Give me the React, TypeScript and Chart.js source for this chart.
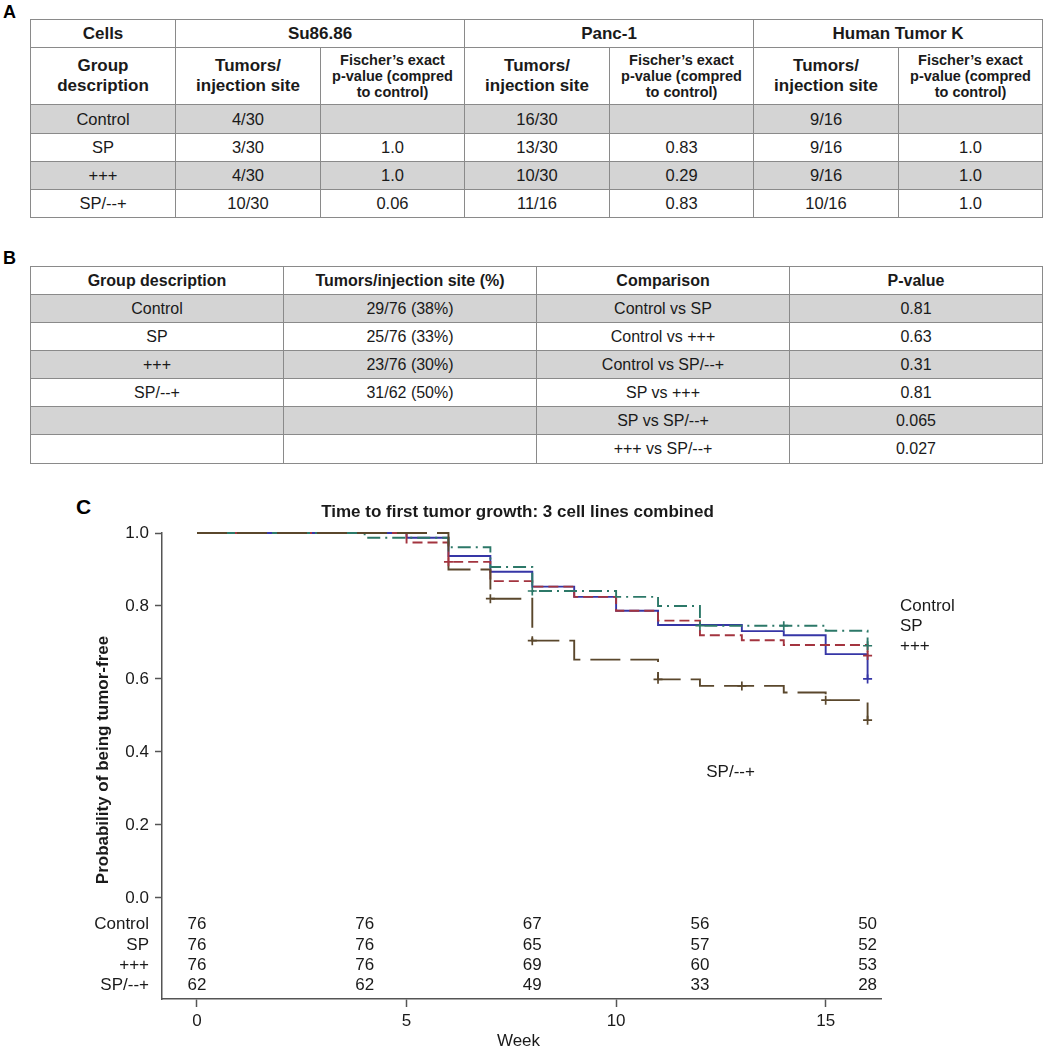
import React, { useEffect, useRef } from 'react';
import { Chart, registerables } from 'chart.js';

Chart.register(...registerables);

// ---------- Data: table A ----------
const GROUPS = ['Control', 'SP', '+++', 'SP/--+'];
const CELL_LINES = ['Su86.86', 'Panc-1', 'Human Tumor K'];
const SU86_TUMORS = ['4/30', '3/30', '4/30', '10/30'];
const SU86_P = ['', '1.0', '1.0', '0.06'];
const PANC1_TUMORS = ['16/30', '13/30', '10/30', '11/16'];
const PANC1_P = ['', '0.83', '0.29', '0.83'];
const HTK_TUMORS = ['9/16', '9/16', '9/16', '10/16'];
const HTK_P = ['', '1.0', '1.0', '1.0'];

// ---------- Data: table B ----------
const COMBINED_TUMORS = ['29/76 (38%)', '25/76 (33%)', '23/76 (30%)', '31/62 (50%)'];
const COMPARISONS = ['Control vs SP', 'Control vs +++', 'Control vs SP/--+', 'SP vs +++', 'SP vs SP/--+', '+++ vs SP/--+'];
const COMPARISON_P = ['0.81', '0.63', '0.31', '0.81', '0.065', '0.027'];

// ---------- Data: Kaplan-Meier ----------
const CONTROL_WEEKS = [0, 5, 6, 7, 8, 9, 10, 11, 13, 14, 15, 16];
const CONTROL_SURV = [1.0, 0.987, 0.937, 0.894, 0.853, 0.825, 0.787, 0.748, 0.731, 0.72, 0.668, 0.6];
const CONTROL_CENSOR_WEEKS = [16];
const CONTROL_CENSOR_SURV = [0.6];

const SP_WEEKS = [0, 5, 6, 7, 8, 9, 10, 11, 12, 13, 14, 16];
const SP_SURV = [1.0, 0.974, 0.921, 0.868, 0.853, 0.825, 0.787, 0.76, 0.72, 0.706, 0.693, 0.664];
const SP_CENSOR_WEEKS = [6, 16];
const SP_CENSOR_SURV = [0.921, 0.664];

const TRIPLE_WEEKS = [0, 4, 6, 7, 8, 10, 11, 12, 15, 16];
const TRIPLE_SURV = [1.0, 0.987, 0.961, 0.907, 0.841, 0.825, 0.8, 0.746, 0.732, 0.691];
const TRIPLE_CENSOR_WEEKS = [8, 12, 14, 16];
const TRIPLE_CENSOR_SURV = [0.841, 0.746, 0.746, 0.691];

const SPM_WEEKS = [0, 6, 7, 8, 9, 11, 12, 14, 15, 16];
const SPM_SURV = [1.0, 0.9, 0.82, 0.705, 0.653, 0.599, 0.581, 0.563, 0.542, 0.487];
const SPM_CENSOR_WEEKS = [7, 8, 11, 13, 15, 16];
const SPM_CENSOR_SURV = [0.82, 0.705, 0.599, 0.581, 0.542, 0.487];

const RISK_WEEKS = [0, 4, 8, 12, 16];
const RISK_CONTROL = [76, 76, 67, 56, 50];
const RISK_SP = [76, 76, 65, 57, 52];
const RISK_TRIPLE = [76, 76, 69, 60, 53];
const RISK_SPM = [62, 62, 49, 33, 28];

const X_TICKS = [0, 5, 10, 15];
const Y_TICKS = [0, 0.2, 0.4, 0.6, 0.8, 1.0];
const CHART_TITLE = 'Time to first tumor growth: 3 cell lines combined';
const Y_TITLE = 'Probability of being tumor-free';
const X_TITLE = 'Week';

// ---------- Styles ----------
const FONT = '"Liberation Sans", Arial, Helvetica, sans-serif';
const COLORS = { control: '#3636a6', sp: '#a3343f', triple: '#2c7868', spm: '#5a472c' };
const AXIS = '#555555';
const TEXT = '#1a1a1a';
const GRAY = '#d4d4d4';
const BORDER = '1px solid #8a8a8a';

const pts = (w: number[], s: number[]) => w.map((x, i) => ({ x, y: s[i] }));

const lineDs = (label: string, w: number[], s: number[], color: string, dash: number[], order: number) => ({
  label,
  data: pts(w, s),
  borderColor: color,
  backgroundColor: color,
  borderWidth: 1.9,
  borderDash: dash,
  stepped: true,
  pointRadius: 0,
  fill: false,
  tension: 0,
  clip: false,
  order,
});

const censorDs = (label: string, w: number[], s: number[], color: string) => ({
  label,
  data: pts(w, s),
  borderColor: color,
  backgroundColor: color,
  showLine: false,
  pointStyle: 'cross',
  pointRadius: 4.5,
  pointBorderWidth: 1.7,
  pointBorderColor: color,
  clip: false,
  order: 0,
});

const annotPlugin = {
  id: 'annot',
  afterDraw(chart: any) {
    const { ctx, chartArea, scales } = chart;
    const xs = scales.x;
    const ys = scales.y;
    ctx.save();
    ctx.fillStyle = TEXT;
    // Title
    ctx.font = `bold 17px ${FONT}`;
    ctx.textAlign = 'center';
    ctx.textBaseline = 'middle';
    ctx.fillText(CHART_TITLE, (chartArea.left + chartArea.right) / 2 - 4, chartArea.top - 21);
    // Y title
    ctx.save();
    ctx.translate(103, (chartArea.top + chartArea.bottom) / 2 - 6);
    ctx.rotate(-Math.PI / 2);
    ctx.fillText(Y_TITLE, 0, 0);
    ctx.restore();
    // X title
    ctx.font = `17px ${FONT}`;
    ctx.fillText(X_TITLE, (chartArea.left + chartArea.right) / 2 - 3, chartArea.bottom + 42);
    // Risk table
    const rows = [RISK_CONTROL, RISK_SP, RISK_TRIPLE, RISK_SPM];
    const y0 = ys.getPixelForValue(0);
    const offs = [26, 47, 67, 87];
    rows.forEach((r, i) => {
      const yy = y0 + offs[i];
      ctx.textAlign = 'right';
      ctx.fillText(GROUPS[i], chartArea.left - 13, yy);
      ctx.textAlign = 'center';
      r.forEach((n, j) => ctx.fillText(String(n), xs.getPixelForValue(RISK_WEEKS[j]), yy));
    });
    // Curve labels
    ctx.textAlign = 'left';
    const lblY = [0.8, 0.745, 0.69];
    for (let i = 0; i < 3; i++) ctx.fillText(GROUPS[i], chartArea.right + 19, ys.getPixelForValue(lblY[i]));
    ctx.fillText(GROUPS[3], xs.getPixelForValue(12.15), ys.getPixelForValue(0.345));
    ctx.restore();
  },
};

function KMChart() {
  const ref = useRef<HTMLCanvasElement>(null);
  useEffect(() => {
    const chart = new Chart(ref.current as HTMLCanvasElement, {
      type: 'line',
      data: {
        datasets: [
          lineDs('Control', CONTROL_WEEKS, CONTROL_SURV, COLORS.control, [], 4),
          lineDs('SP', SP_WEEKS, SP_SURV, COLORS.sp, [10, 5], 3),
          lineDs('+++', TRIPLE_WEEKS, TRIPLE_SURV, COLORS.triple, [13, 5, 2, 5], 2),
          lineDs('SP/--+', SPM_WEEKS, SPM_SURV, COLORS.spm, [30, 10], 1),
          censorDs('Control censored', CONTROL_CENSOR_WEEKS, CONTROL_CENSOR_SURV, COLORS.control),
          censorDs('SP censored', SP_CENSOR_WEEKS, SP_CENSOR_SURV, COLORS.sp),
          censorDs('+++ censored', TRIPLE_CENSOR_WEEKS, TRIPLE_CENSOR_SURV, COLORS.triple),
          censorDs('SP/--+ censored', SPM_CENSOR_WEEKS, SPM_CENSOR_SURV, COLORS.spm),
        ] as any,
      },
      options: {
        animation: false,
        responsive: false,
        maintainAspectRatio: false,
        layout: { padding: { left: 82, right: 162, top: 53, bottom: 0 } },
        plugins: { legend: { display: false }, title: { display: false }, tooltip: { enabled: false } },
        scales: {
          x: {
            type: 'linear',
            min: -0.835,
            max: 16.32,
            afterBuildTicks: (s: any) => { s.ticks = X_TICKS.map((v) => ({ value: v })); },
            afterFit: (s: any) => { s.height = 51; },
            grid: { display: true, drawOnChartArea: false, drawTicks: true, tickLength: 8, tickWidth: 1.5, tickColor: AXIS, color: AXIS },
            border: { display: true, color: AXIS, width: 1.5 },
            ticks: { color: TEXT, font: { family: FONT, size: 17 }, padding: 4, maxRotation: 0, autoSkip: false, callback: (v: any) => String(v) },
          },
          y: {
            type: 'linear',
            min: -0.277,
            max: 1.0,
            afterBuildTicks: (s: any) => { s.ticks = Y_TICKS.map((v) => ({ value: v })); },
            afterFit: (s: any) => { s.width = 80; },
            grid: { display: true, drawOnChartArea: false, drawTicks: true, tickLength: 7, tickWidth: 1.5, tickColor: AXIS, color: AXIS },
            border: { display: true, color: AXIS, width: 1.5 },
            ticks: { color: TEXT, font: { family: FONT, size: 17 }, padding: 6, autoSkip: false, callback: (v: any) => Number(v).toFixed(1) },
          },
        },
      } as any,
      plugins: [annotPlugin],
    });
    return () => chart.destroy();
  }, []);
  return <canvas ref={ref} width={1043} height={570} style={{ position: 'absolute', left: 0, top: 480, width: 1043, height: 570 }} />;
}

const td = (extra: any = {}) => ({ border: BORDER, padding: 0, textAlign: 'center' as const, verticalAlign: 'middle' as const, ...extra });

function TableA() {
  const hdr = { fontWeight: 'bold', fontSize: 17, lineHeight: '20px' };
  const fis = { fontWeight: 'bold', fontSize: 14.5, lineHeight: '16px' };
  const body = { fontSize: 16.5 };
  const tum = [SU86_TUMORS, PANC1_TUMORS, HTK_TUMORS];
  const pv = [SU86_P, PANC1_P, HTK_P];
  const rowH = [29, 28, 28, 28];
  return (
    <table style={{ position: 'absolute', left: 30, top: 19, width: 1012, borderCollapse: 'collapse', tableLayout: 'fixed', color: TEXT }}>
      <colgroup>
        {[145, 145, 144, 145, 144, 145, 144].map((w, i) => <col key={i} style={{ width: w }} />)}
      </colgroup>
      <tbody>
        <tr style={{ height: 28 }}>
          <td style={td(hdr)}>Cells</td>
          {CELL_LINES.map((c) => <td key={c} colSpan={2} style={td(hdr)}>{c}</td>)}
        </tr>
        <tr style={{ height: 57 }}>
          <td style={td(hdr)}>Group<br />description</td>
          {CELL_LINES.map((c) => (
            <React.Fragment key={c}>
              <td style={td(hdr)}>Tumors/<br />injection site</td>
              <td style={td(fis)}>Fischer’s exact<br />p-value (compred<br />to control)</td>
            </React.Fragment>
          ))}
        </tr>
        {GROUPS.map((g, i) => (
          <tr key={g} style={{ height: rowH[i], background: i % 2 === 0 ? GRAY : '#fff' }}>
            <td style={td(body)}>{g}</td>
            {tum.map((t, k) => (
              <React.Fragment key={k}>
                <td style={td(body)}>{t[i]}</td>
                <td style={td(body)}>{pv[k][i]}</td>
              </React.Fragment>
            ))}
          </tr>
        ))}
      </tbody>
    </table>
  );
}

function TableB() {
  const hdr = { fontWeight: 'bold', fontSize: 16 };
  const body = { fontSize: 16 };
  const heights = [28, 28, 28, 28, 28, 29];
  return (
    <table style={{ position: 'absolute', left: 30, top: 266, width: 1012, borderCollapse: 'collapse', tableLayout: 'fixed', color: TEXT }}>
      <colgroup>
        {[253, 253, 253, 253].map((w, i) => <col key={i} style={{ width: w }} />)}
      </colgroup>
      <tbody>
        <tr style={{ height: 28 }}>
          <td style={td(hdr)}>Group description</td>
          <td style={td(hdr)}>Tumors/injection site (%)</td>
          <td style={td(hdr)}>Comparison</td>
          <td style={td(hdr)}>P-value</td>
        </tr>
        {COMPARISONS.map((c, i) => (
          <tr key={c} style={{ height: heights[i], background: i % 2 === 0 ? GRAY : '#fff' }}>
            <td style={td(body)}>{GROUPS[i] ?? ''}</td>
            <td style={td(body)}>{COMBINED_TUMORS[i] ?? ''}</td>
            <td style={td(body)}>{c}</td>
            <td style={td(body)}>{COMPARISON_P[i]}</td>
          </tr>
        ))}
      </tbody>
    </table>
  );
}

export default function App() {
  const lbl = { position: 'absolute' as const, fontWeight: 'bold', lineHeight: 1, color: '#000' };
  return (
    <div style={{ position: 'absolute', left: 0, top: 0, width: 1043, height: 1050, background: '#fff', fontFamily: FONT, overflow: 'hidden' }}>
      <div style={{ ...lbl, left: 3, top: 3, fontSize: 18 }}>A</div>
      <TableA />
      <div style={{ ...lbl, left: 3, top: 249, fontSize: 18 }}>B</div>
      <TableB />
      <div style={{ ...lbl, left: 76, top: 496, fontSize: 21 }}>C</div>
      <KMChart />
    </div>
  );
}
